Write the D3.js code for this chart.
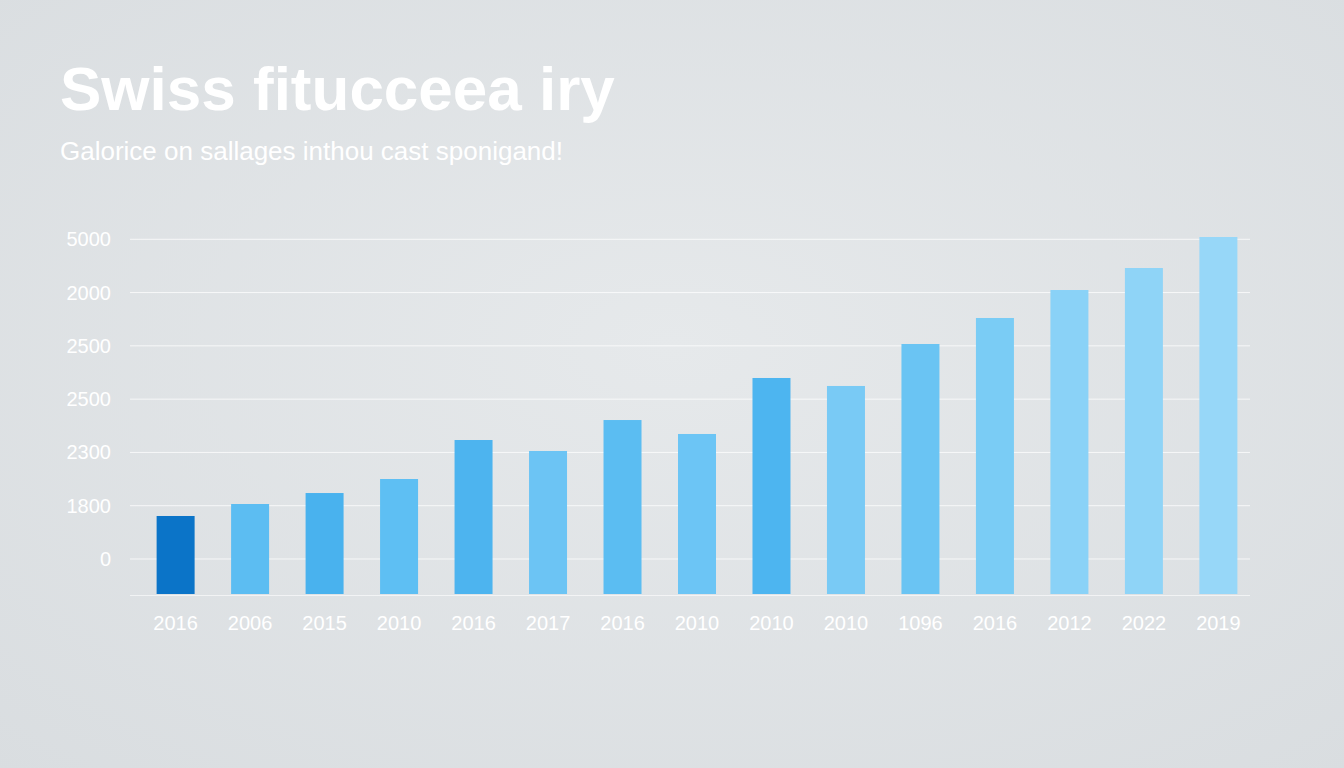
<!DOCTYPE html>
<html>
<head>
<meta charset="utf-8">
<script src="https://cdn.jsdelivr.net/npm/d3@7"></script>
<style>
  body { margin: 0; background: #dfe3e6; }
  svg { display: block; font-family: "Liberation Sans", Arial, sans-serif; }
</style>
</head>
<body>
<svg id="chart" width="1344" height="768"></svg>
<script>
// chart data
const years = ["2016", "2006", "2015", "2010", "2016", "2017", "2016", "2010",
               "2010", "2010", "1096", "2016", "2012", "2022", "2019"];
const values = [1464, 1689, 1895, 2158, 2890, 2684, 3265, 3003,
                4054, 3904, 4692, 5180, 5705, 6118, 6700];
const tickValues = [657, 1657, 2657, 3657, 4657, 5657, 6657];
const tickLabels = ["0", "1800", "2300", "2500", "2500", "2000", "5000"];
const barColors = ["#0b74c8", "#5cbdf2", "#49b2ee", "#5ebff3", "#4db4ef", "#6cc4f4",
                   "#5bbdf2", "#6cc5f5", "#4db5f0", "#79caf5", "#6ac4f3", "#7accf5",
                   "#8ad2f7", "#8fd4f7", "#97d7f8"];

const svg = d3.select('#chart');

// soft background
const defs = svg.append('defs');
const grad = defs.append('radialGradient').attr('id', 'bg').attr('cx', '50%').attr('cy', '45%').attr('r', '75%');
grad.append('stop').attr('offset', '0%').attr('stop-color', '#e6e9eb');
grad.append('stop').attr('offset', '100%').attr('stop-color', '#d9dde0');
svg.append('rect').attr('width', 1344).attr('height', 768).attr('fill', 'url(#bg)');

svg.append('text')
  .attr('x', 60).attr('y', 110)
  .attr('fill', '#ffffff').attr('font-size', 62).attr('font-weight', 700)
  .text('Swiss fitucceea iry');

svg.append('text')
  .attr('x', 60).attr('y', 160)
  .attr('fill', '#ffffff').attr('font-size', 26)
  .text('Galorice on sallages inthou cast sponigand!');

const x = d3.scaleBand()
  .domain(d3.range(years.length))
  .range([138, 1256])
  .paddingInner(0.49).paddingOuter(0.25);

const y = d3.scaleLinear().domain([0, 6700]).range([594, 237]);

// gridlines
svg.append('g')
  .selectAll('line')
  .data(tickValues)
  .enter()
  .append('line')
  .attr('x1', 130).attr('x2', 1250)
  .attr('y1', d => y(d)).attr('y2', d => y(d))
  .attr('stroke', '#ffffff').attr('stroke-opacity', 0.75).attr('stroke-width', 1);

svg.append('line')
  .attr('x1', 130).attr('x2', 1250).attr('y1', 595.5).attr('y2', 595.5)
  .attr('stroke', '#ffffff').attr('stroke-opacity', 0.6);

// y labels
svg.append('g')
  .selectAll('text')
  .data(tickValues)
  .enter()
  .append('text')
  .attr('x', 111).attr('y', d => y(d) + 7)
  .attr('text-anchor', 'end')
  .attr('fill', '#ffffff').attr('font-size', 20)
  .text((d, i) => tickLabels[i]);

// bars
svg.append('g')
  .selectAll('.bar')
  .data(values)
  .enter()
  .append('rect')
  .classed('bar', true)
  .attr('x', (d, i) => x(i))
  .attr('width', x.bandwidth())
  .attr('y', d => y(d))
  .attr('height', d => 594 - y(d))
  .attr('fill', (d, i) => barColors[i]);

// x labels
svg.append('g')
  .selectAll('text')
  .data(years)
  .enter()
  .append('text')
  .attr('x', (d, i) => x(i) + x.bandwidth() / 2)
  .attr('y', 630)
  .attr('text-anchor', 'middle')
  .attr('fill', '#ffffff').attr('font-size', 20)
  .text(d => d);
</script>
</body>
</html>
